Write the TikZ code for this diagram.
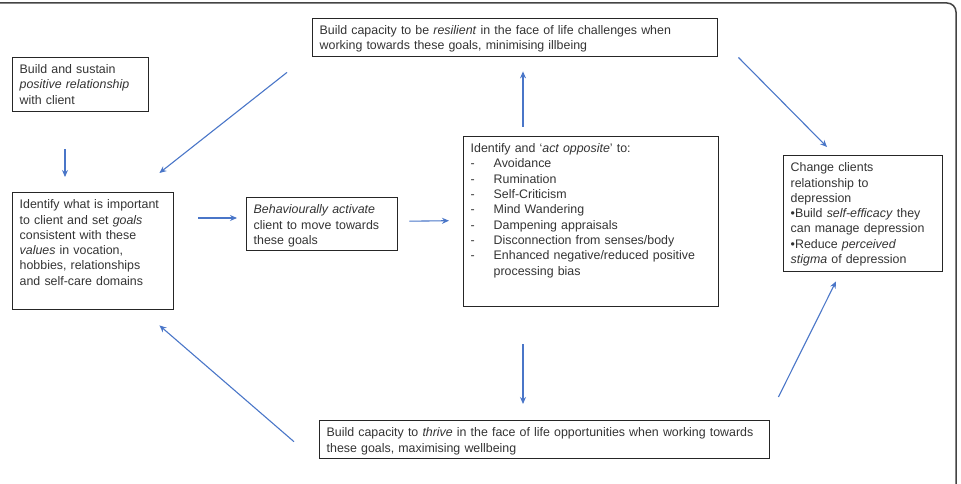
\documentclass[tikz,border=0pt]{standalone}
\usepackage{fontspec}
\setmainfont{Liberation Sans}
\usetikzlibrary{arrows.meta}
\definecolor{cArrow}{HTML}{4A76C8}
\definecolor{cText} {HTML}{333333}
\definecolor{cFrame}{HTML}{444444}
\tikzset{
  >={Stealth[length=7pt,width=6pt]},
  tbox/.style={draw=black!85,line width=1.4pt,anchor=north west,align=left,
               inner xsep=7pt,inner ysep=7pt,text height=9pt,text=cText,
               font=\fontsize{12.4}{15.3}\selectfont},
  arr/.style ={->,line width=1.1pt,cArrow},
}
\newcommand{\dashitem}{\makebox[23pt][l]{-}}

\begin{document}
\begin{tikzpicture}[x=1pt,y=-1pt]
    \useasboundingbox (0,0) rectangle (961,484);
    \draw[cFrame,line width=1.5pt,rounded corners=9pt] (0,3) -- (956,3) -- (956,484);
    % boxes
    \node[tbox,text width=391pt,text depth=15pt] (res) at (312,18)
         {Build capacity to be \textit{resilient} in the face of life challenges when\\
          working towards these goals, minimising illbeing};
    \node[tbox,text width=122pt,text depth=31pt] (sus) at (12,57)
         {Build and sustain\\\textit{positive relationship}\\with client};
    \node[tbox,text width=147pt,text depth=94pt] (imp) at (12,192)
         {Identify what is important\\to client and set \textit{goals}\\consistent with these\\
          \textit{values} in vocation,\\hobbies, relationships\\and self-care domains};
    \node[tbox,text width=137pt,text depth=30pt] (bact) at (246,197)
         {\textit{Behaviourally activate}\\client to move towards\\these goals};
    \node[tbox,text width=241pt,text depth=147pt] (opp) at (463,136)
         {Identify and ‘\textit{act opposite}’ to:\\
          \dashitem Avoidance\\\dashitem Rumination\\\dashitem Self-Criticism\\
          \dashitem Mind Wandering\\\dashitem Dampening appraisals\\
          \dashitem Disconnection from senses/body\\
          \dashitem Enhanced negative/reduced positive\\
          \makebox[23pt][l]{}processing bias};
    \node[tbox,text width=145pt,text depth=93pt] (chg) at (783,155)
         {Change clients\\relationship to\\depression\\
          •Build \textit{self-efficacy} they\\can manage depression\\
          •Reduce \textit{perceived}\\\textit{stigma} of depression};
    \node[tbox,text width=436pt,text depth=15pt] (thr) at (319,420)
         {Build capacity to \textit{thrive} in the face of life opportunities when working towards\\
          these goals, maximising wellbeing};
    % arrows
    \draw[arr] ([shift={(53,37)}]sus.south west) -- ([shift={(53,-15)}]imp.north west);
    \draw[arr] ([shift={(-25,15)}]res.south west) -- ([shift={(-15,-19)}]imp.north east);
    \draw[arr] ([shift={(24,26)}]imp.north east) -- ([shift={(-9,21)}]bact.north west);
    \draw[arr] ([shift={(11,-3)}]bact.east) -- ([shift={(-14,-1)}]opp.west);
    \draw[arr] ([shift={(60,-9)}]opp.north west) -- ([shift={(211,14)}]res.south west);
    \draw[arr] ([shift={(20,0)}]res.south east) -- ([shift={(44,-8)}]chg.north west);
    \draw[arr] ([shift={(60,37)}]opp.south west) -- ([shift={(204,-16)}]thr.north west);
    \draw[arr] ([shift={(-25,2)}]thr.west) -- ([shift={(-15,15)}]imp.south east);
    \draw[arr] ([shift={(8,-23)}]thr.north east) -- ([shift={(53,9)}]chg.south west);
\end{tikzpicture}
\end{document}
